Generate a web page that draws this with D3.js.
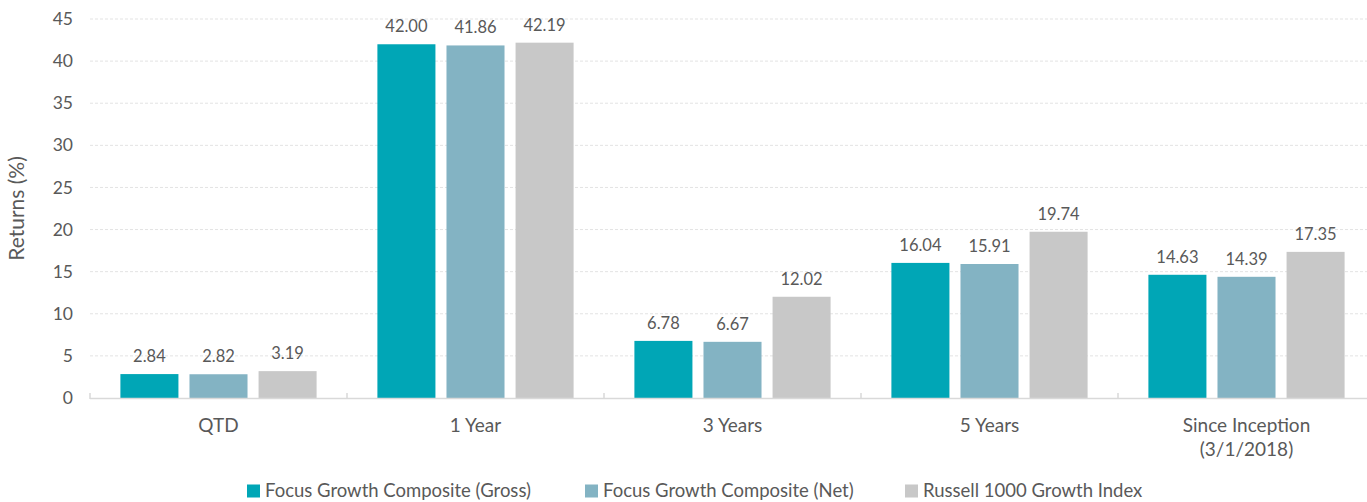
<!DOCTYPE html>
<html>
<head>
<meta charset="utf-8">
<script src="https://cdn.jsdelivr.net/npm/d3@7"></script>
<style>
  body { margin: 0; background: #fff; }
  svg text { font-family: Lato, "Open Sans", sans-serif; fill: #595959; }
</style>
</head>
<body>
<svg id="chart" width="1367" height="502"></svg>
<script>
// data
const categories = ["QTD", "1 Year", "3 Years", "5 Years", "Since Inception\n(3/1/2018)"];
const seriesNames = ["Focus Growth Composite (Gross)", "Focus Growth Composite (Net)", "Russell 1000 Growth Index"];
const gross = [2.84, 42.00, 6.78, 16.04, 14.63];
const net = [2.82, 41.86, 6.67, 15.91, 14.39];
const russell = [3.19, 42.19, 12.02, 19.74, 17.35];
const yTicks = [0, 5, 10, 15, 20, 25, 30, 35, 40, 45];
const colors = ["#00A6B6", "#83B3C3", "#C8C8C8"];

const series = [gross, net, russell];

const svg = d3.select("#chart");
const plotLeft = 90, plotRight = 1375, plotTop = 19, plotBottom = 398;

const x = d3.scaleBand().domain(categories).range([plotLeft, plotRight]).paddingInner(0).paddingOuter(0);
const x1 = d3.scaleBand().domain(d3.range(3)).range([0, x.bandwidth()]).paddingInner(0.16).paddingOuter(0.44);
const y = d3.scaleLinear().domain([0, 45]).range([plotBottom, plotTop]);

// gridlines
svg.append("g").selectAll("line")
  .data(yTicks.filter(d => d > 0))
  .enter().append("line")
    .attr("x1", plotLeft).attr("x2", 1367)
    .attr("y1", d => y(d)).attr("y2", d => y(d))
    .attr("stroke", "#e3e3e3")
    .attr("stroke-dasharray", "3,2");

// y tick labels
svg.append("g").selectAll("text")
  .data(yTicks)
  .enter().append("text")
    .attr("x", 73).attr("y", d => y(d))
    .attr("dy", "0.35em")
    .attr("text-anchor", "end")
    .style("font-size", "17.5px")
    .text(d => d);

// y title
svg.append("text")
  .attr("transform", `translate(24, ${(plotTop + plotBottom) / 2}) rotate(-90)`)
  .attr("text-anchor", "middle")
  .style("font-size", "21px")
  .text("Returns (%)");

// bars
const groups = svg.append("g").selectAll("g")
  .data(categories)
  .enter().append("g")
    .attr("transform", d => `translate(${x(d)},0)`);

groups.selectAll("rect")
  .data((d, i) => series.map((s, k) => ({ k, v: s[i] })))
  .enter().append("rect")
    .attr("x", d => x1(d.k))
    .attr("width", x1.bandwidth())
    .attr("y", d => y(d.v))
    .attr("height", d => y(0) - y(d.v))
    .attr("fill", d => colors[d.k]);

groups.selectAll("text.val")
  .data((d, i) => series.map((s, k) => ({ k, v: s[i] })))
  .enter().append("text")
    .attr("class", "val")
    .attr("x", d => x1(d.k) + x1.bandwidth() / 2)
    .attr("y", d => y(d.v) - 12)
    .attr("text-anchor", "middle")
    .style("font-size", "16.5px")
    .text(d => d.v.toFixed(2));

// x axis
const xAxis = svg.append("g");
xAxis.append("line")
  .attr("x1", plotLeft).attr("x2", 1367)
  .attr("y1", plotBottom + 0.5).attr("y2", plotBottom + 0.5)
  .attr("stroke", "#d9d9d9").attr("stroke-width", 1.5);
xAxis.selectAll("line.tick")
  .data(categories.map(c => x(c)).concat([plotRight]))
  .enter().append("line")
    .attr("class", "tick")
    .attr("x1", d => d).attr("x2", d => d)
    .attr("y1", plotBottom - 5).attr("y2", plotBottom + 1)
    .attr("stroke", "#d9d9d9").attr("stroke-width", 1.5);

const xl = xAxis.selectAll("text")
  .data(categories)
  .enter().append("text")
    .attr("x", d => x(d) + x.bandwidth() / 2)
    .attr("y", 432)
    .attr("text-anchor", "middle")
    .style("font-size", "19px");
xl.selectAll("tspan")
  .data(d => d.split("\n"))
  .enter().append("tspan")
    .attr("x", function() { return d3.select(this.parentNode).attr("x"); })
    .attr("dy", (d, i) => i === 0 ? 0 : 24)
    .text(d => d);

// legend
const legendX = [247, 585, 905];
const legend = svg.append("g").selectAll("g")
  .data(seriesNames)
  .enter().append("g")
    .attr("transform", (d, i) => `translate(${legendX[i]}, 491)`);
legend.append("rect")
  .attr("x", 0).attr("y", -6.5).attr("width", 13).attr("height", 13)
  .attr("fill", (d, i) => colors[i]);
legend.append("text")
  .attr("x", 18).attr("y", 0).attr("dy", "0.35em")
  .style("font-size", "18.5px")
  .text(d => d);
</script>
</body>
</html>
